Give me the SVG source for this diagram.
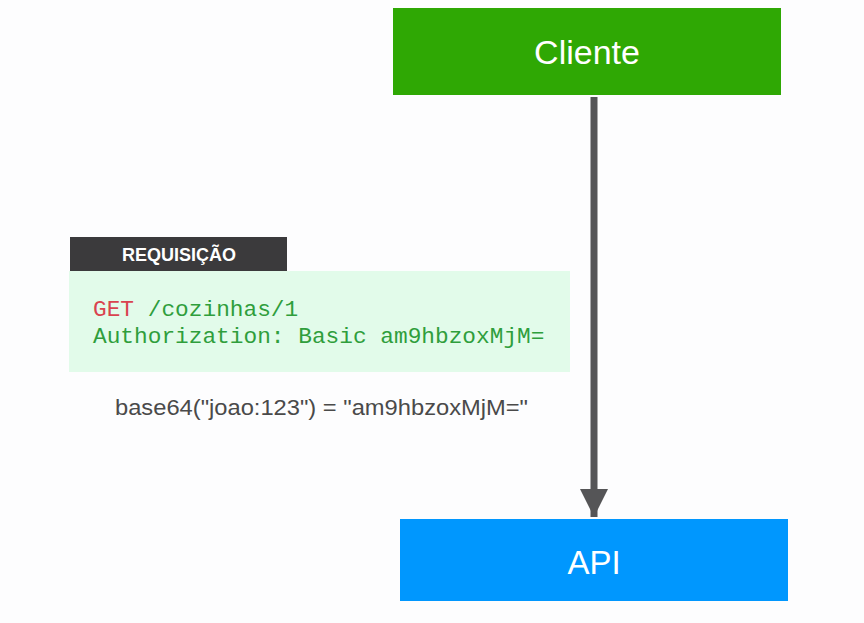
<svg xmlns="http://www.w3.org/2000/svg" width="864" height="623" viewBox="0 0 864 623">
<style>
.lbl{font-family:"Liberation Sans",Arial,sans-serif;fill:#fff;text-anchor:middle}
.code{font-family:"Liberation Mono","Courier New",monospace;font-size:22.8px;fill:#2f9e3c}
</style>
<defs>
<marker id="ah" markerWidth="4" markerHeight="4" refX="4" refY="2" orient="auto" markerUnits="strokeWidth">
<path d="M0,0 L4,2 L0,4 Z" fill="#555557"/>
</marker>
</defs>
<rect width="864" height="623" fill="#fdfdfe"/>
<g id="connectors">
<line x1="594" y1="97" x2="594" y2="517" stroke="#555557" stroke-width="7" marker-end="url(#ah)"/>
</g>
<g id="cliente">
<rect x="393" y="8" width="388" height="87" fill="#2fa804"/>
<text class="lbl" x="587" y="64" font-size="34">Cliente</text>
</g>
<g id="api">
<rect x="400" y="519" width="388" height="82" fill="#0097fe"/>
<text class="lbl" x="594" y="574" font-size="33">API</text>
</g>
<g id="requisicao">
<rect x="69" y="271" width="501" height="101" fill="#e2fbea"/>
<rect x="70" y="237" width="217" height="34" fill="#3b3a3c"/>
<text class="lbl" x="179" y="261" font-size="18" font-weight="bold" fill="#eee">REQUISIÇÃO</text>
<text class="code" x="93" y="316"><tspan fill="#d9434f">GET</tspan> /cozinhas/1</text>
<text class="code" x="93" y="343">Authorization: Basic am9hbzoxMjM=</text>
</g>
<g id="base64">
<text x="115" y="415" font-family="'Liberation Sans',Arial,sans-serif" font-size="21.5" fill="#4a4a4a" textLength="413" lengthAdjust="spacingAndGlyphs">base64("joao:123") = "am9hbzoxMjM="</text>
</g>
</svg>
